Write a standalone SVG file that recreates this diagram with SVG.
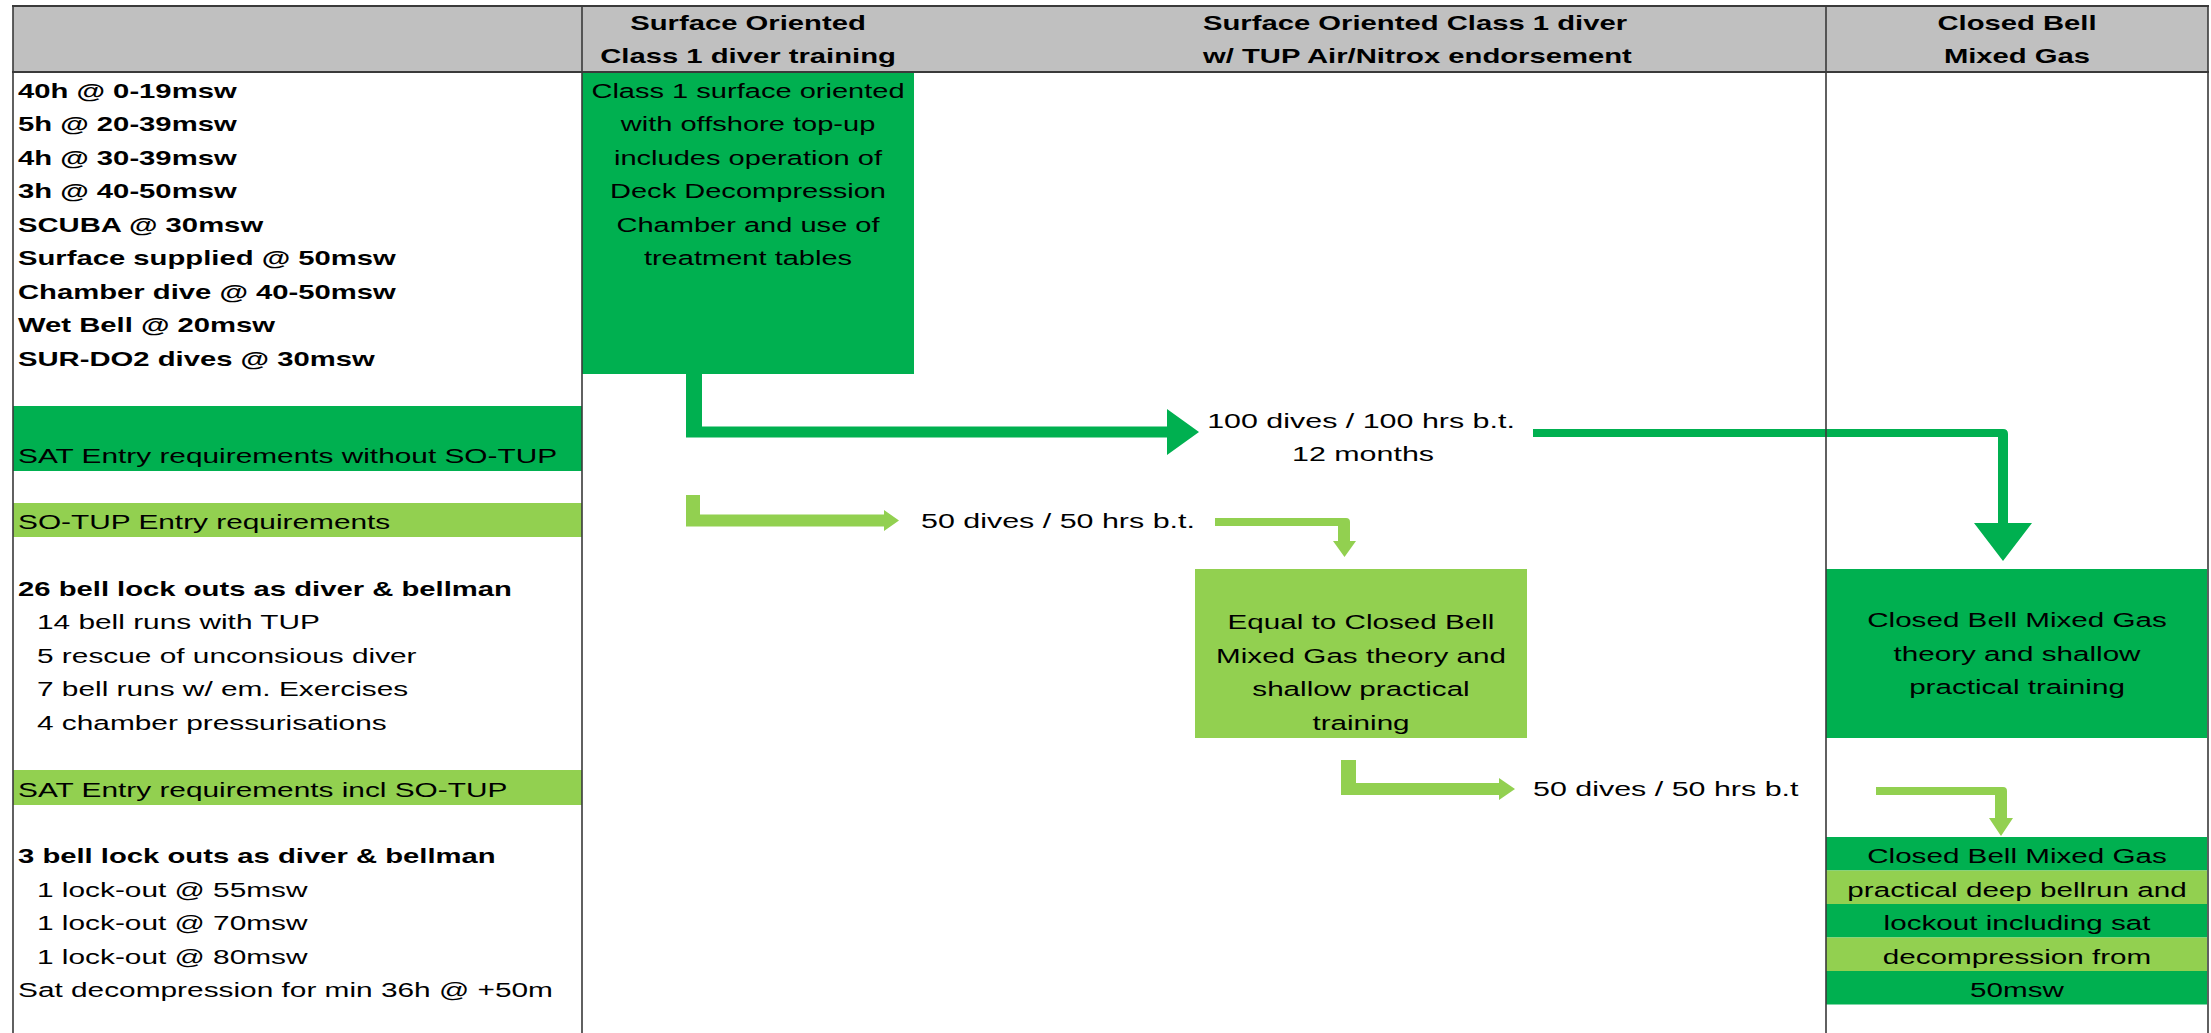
<svg xmlns="http://www.w3.org/2000/svg" width="2211" height="1033" viewBox="0 0 2211 1033">
<style>
text{font-family:"Liberation Sans",Arial,sans-serif;font-size:19.5px;fill:#000}
.b{font-weight:bold}
.c{text-anchor:middle}
.dg{fill:#00B050}
.lg{fill:#92D050}
.hd{fill:#C0C0C0}
.ln{stroke:#3a3a3a;fill:none}
</style>
<rect x="0" y="0" width="2211" height="1033" fill="#fff"/>

<g id="header">
<rect class="hd" x="13" y="6" width="2195" height="66"/>
<g id="hdr-col2">
<text class="b c" transform="translate(748 30) scale(1.5 1)">Surface Oriented</text>
<text class="b c" transform="translate(748 63) scale(1.5 1)">Class 1 diver training</text>
</g>
<g id="hdr-col3">
<text class="b" transform="translate(1203 30) scale(1.5 1)">Surface Oriented Class 1 diver</text>
<text class="b" transform="translate(1203 63) scale(1.5 1)">w/ TUP Air/Nitrox endorsement</text>
</g>
<g id="hdr-col4">
<text class="b c" transform="translate(2017 30) scale(1.5 1)">Closed Bell</text>
<text class="b c" transform="translate(2017 63) scale(1.5 1)">Mixed Gas</text>
</g>
</g>

<g id="left-column">
<rect class="dg" x="13" y="406" width="569" height="65"/>
<rect class="lg" x="13" y="503" width="569" height="34"/>
<rect class="lg" x="13" y="770" width="569" height="35"/>
<text class="b" transform="translate(18 97.5) scale(1.5 1)">40h @ 0-19msw</text>
<text class="b" transform="translate(18 131) scale(1.5 1)">5h @ 20-39msw</text>
<text class="b" transform="translate(18 164.5) scale(1.5 1)">4h @ 30-39msw</text>
<text class="b" transform="translate(18 198) scale(1.5 1)">3h @ 40-50msw</text>
<text class="b" transform="translate(18 231.5) scale(1.5 1)">SCUBA @ 30msw</text>
<text class="b" transform="translate(18 265) scale(1.5 1)">Surface supplied @ 50msw</text>
<text class="b" transform="translate(18 298.5) scale(1.5 1)">Chamber dive @ 40-50msw</text>
<text class="b" transform="translate(18 332) scale(1.5 1)">Wet Bell @ 20msw</text>
<text class="b" transform="translate(18 365.5) scale(1.5 1)">SUR-DO2 dives @ 30msw</text>
<text transform="translate(18 463) scale(1.53 1)">SAT Entry requirements without SO-TUP</text>
<text transform="translate(18 528.5) scale(1.53 1)">SO-TUP Entry requirements</text>
<text class="b" transform="translate(18 595.5) scale(1.5 1)">26 bell lock outs as diver &amp; bellman</text>
<text transform="translate(37 629) scale(1.53 1)">14 bell runs with TUP</text>
<text transform="translate(37 662.5) scale(1.53 1)">5 rescue of unconsious diver</text>
<text transform="translate(37 696) scale(1.53 1)">7 bell runs w/ em. Exercises</text>
<text transform="translate(37 729.5) scale(1.53 1)">4 chamber pressurisations</text>
<text transform="translate(18 797) scale(1.53 1)">SAT Entry requirements incl SO-TUP</text>
<text class="b" transform="translate(18 863) scale(1.5 1)">3 bell lock outs as diver &amp; bellman</text>
<text transform="translate(37 896.5) scale(1.53 1)">1 lock-out @ 55msw</text>
<text transform="translate(37 930) scale(1.53 1)">1 lock-out @ 70msw</text>
<text transform="translate(37 963.5) scale(1.53 1)">1 lock-out @ 80msw</text>
<text transform="translate(18 997) scale(1.53 1)">Sat decompression for min 36h @ +50m</text>
</g>

<g id="node-class1">
<rect class="dg" x="582" y="73" width="332" height="301"/>
<text class="c" transform="translate(748 97.5) scale(1.49 1)">Class 1 surface oriented</text>
<text class="c" transform="translate(748 131) scale(1.49 1)">with offshore top-up</text>
<text class="c" transform="translate(748 164.5) scale(1.49 1)">includes operation of</text>
<text class="c" transform="translate(748 198) scale(1.49 1)">Deck Decompression</text>
<text class="c" transform="translate(748 231.5) scale(1.49 1)">Chamber and use of</text>
<text class="c" transform="translate(748 265) scale(1.49 1)">treatment tables</text>
</g>

<g id="node-equal">
<rect class="lg" x="1195" y="569" width="332" height="169"/>
<text class="c" transform="translate(1361 629) scale(1.52 1)">Equal to Closed Bell</text>
<text class="c" transform="translate(1361 662.5) scale(1.52 1)">Mixed Gas theory and</text>
<text class="c" transform="translate(1361 696) scale(1.52 1)">shallow practical</text>
<text class="c" transform="translate(1361 729.5) scale(1.52 1)">training</text>
</g>

<g id="node-cbmg-theory">
<rect class="dg" x="1826" y="569" width="381" height="169"/>
<text class="c" transform="translate(2017 627) scale(1.52 1)">Closed Bell Mixed Gas</text>
<text class="c" transform="translate(2017 660.5) scale(1.52 1)">theory and shallow</text>
<text class="c" transform="translate(2017 694) scale(1.52 1)">practical training</text>
</g>

<g id="node-cbmg-practical">
<rect class="dg" x="1826" y="837" width="381" height="33.5"/>
<rect class="lg" x="1826" y="870.5" width="381" height="33.5"/>
<rect class="dg" x="1826" y="904" width="381" height="33.5"/>
<rect class="lg" x="1826" y="937.5" width="381" height="33.5"/>
<rect class="dg" x="1826" y="971" width="381" height="33.5"/>
<text class="c" transform="translate(2017 863) scale(1.52 1)">Closed Bell Mixed Gas</text>
<text class="c" transform="translate(2017 896.5) scale(1.52 1)">practical deep bellrun and</text>
<text class="c" transform="translate(2017 930) scale(1.52 1)">lockout including sat</text>
<text class="c" transform="translate(2017 963.5) scale(1.52 1)">decompression from</text>
<text class="c" transform="translate(2017 997) scale(1.52 1)">50msw</text>
</g>

<g id="labels">
<text class="c" transform="translate(1361 428) scale(1.56 1)">100 dives / 100 hrs b.t.</text>
<text class="c" transform="translate(1363 461) scale(1.56 1)">12 months</text>
<text transform="translate(921 528) scale(1.56 1)">50 dives / 50 hrs b.t.</text>
<text transform="translate(1533 796) scale(1.56 1)">50 dives / 50 hrs b.t</text>
</g>

<g id="connectors">
<path class="dg" d="M686,373 H702 V426.5 H1167 V409 L1199,432 L1167,455 V437.5 H686 Z"/>
<path class="dg" d="M1533,429 H2003 Q2008,429 2008,434 V523 H2032 L2003,561 L1974,523 H1998 V437 H1533 Z"/>
<path class="lg" d="M686,495 H700 V514.5 H884 V510 L899,520.5 L884,531 V526.5 H686 Z"/>
<path class="lg" d="M1215,518 H1346 Q1350,518 1350,522 V541 H1356 L1344.5,557 L1333,541 H1338 V526 H1215 Z"/>
<path class="lg" d="M1341,760 H1356 V783 H1499 V778 L1515,789 L1499,800 V795 H1341 Z"/>
<path class="lg" d="M1876,787 H2003 Q2007,787 2007,791 V818 H2013 L2001,836 L1989,818 H1995 V795 H1876 Z"/>
</g>

<g id="grid">
<path class="ln" stroke-width="2" d="M12,6 H2209 M12,72 H2209"/>
<path class="ln" stroke-width="1.6" d="M13,6 V1033 M582,6 V1033 M1826,6 V1033 M2208,6 V1033"/>
</g>
</svg>
